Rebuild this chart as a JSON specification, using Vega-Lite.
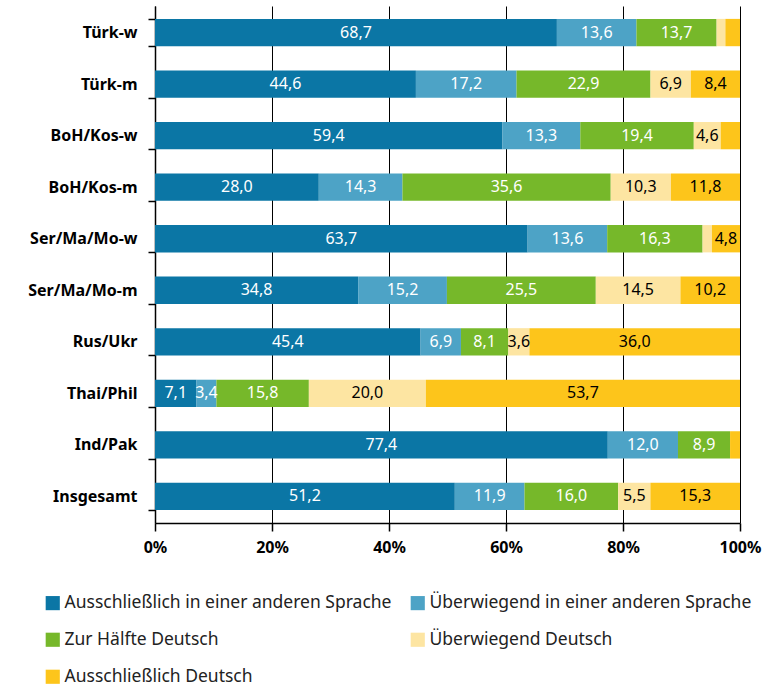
{
  "$schema": "https://vega.github.io/schema/vega-lite/v6.json",
  "width": 585,
  "height": 517,
  "autosize": "none",
  "padding": {"left": 155, "top": 6, "right": 29, "bottom": 163},
  "config": {
    "locale": {"number": {"decimal": ",", "thousands": ".", "grouping": [3], "currency": ["", " €"]}},
    "font": "Noto Sans",
    "view": {"stroke": null}
  },
  "data": {
    "values": [
      {"g": "Türk-w", "Ausschließlich in einer anderen Sprache": 68.7, "Überwiegend in einer anderen Sprache": 13.6, "Zur Hälfte Deutsch": 13.7, "Überwiegend Deutsch": 1.5, "Ausschließlich Deutsch": 2.5},
      {"g": "Türk-m", "Ausschließlich in einer anderen Sprache": 44.6, "Überwiegend in einer anderen Sprache": 17.2, "Zur Hälfte Deutsch": 22.9, "Überwiegend Deutsch": 6.9, "Ausschließlich Deutsch": 8.4},
      {"g": "BoH/Kos-w", "Ausschließlich in einer anderen Sprache": 59.4, "Überwiegend in einer anderen Sprache": 13.3, "Zur Hälfte Deutsch": 19.4, "Überwiegend Deutsch": 4.6, "Ausschließlich Deutsch": 3.3},
      {"g": "BoH/Kos-m", "Ausschließlich in einer anderen Sprache": 28.0, "Überwiegend in einer anderen Sprache": 14.3, "Zur Hälfte Deutsch": 35.6, "Überwiegend Deutsch": 10.3, "Ausschließlich Deutsch": 11.8},
      {"g": "Ser/Ma/Mo-w", "Ausschließlich in einer anderen Sprache": 63.7, "Überwiegend in einer anderen Sprache": 13.6, "Zur Hälfte Deutsch": 16.3, "Überwiegend Deutsch": 1.6, "Ausschließlich Deutsch": 4.8},
      {"g": "Ser/Ma/Mo-m", "Ausschließlich in einer anderen Sprache": 34.8, "Überwiegend in einer anderen Sprache": 15.2, "Zur Hälfte Deutsch": 25.5, "Überwiegend Deutsch": 14.5, "Ausschließlich Deutsch": 10.2},
      {"g": "Rus/Ukr", "Ausschließlich in einer anderen Sprache": 45.4, "Überwiegend in einer anderen Sprache": 6.9, "Zur Hälfte Deutsch": 8.1, "Überwiegend Deutsch": 3.6, "Ausschließlich Deutsch": 36.0},
      {"g": "Thai/Phil", "Ausschließlich in einer anderen Sprache": 7.1, "Überwiegend in einer anderen Sprache": 3.4, "Zur Hälfte Deutsch": 15.8, "Überwiegend Deutsch": 20.0, "Ausschließlich Deutsch": 53.7},
      {"g": "Ind/Pak", "Ausschließlich in einer anderen Sprache": 77.4, "Überwiegend in einer anderen Sprache": 12.0, "Zur Hälfte Deutsch": 8.9, "Überwiegend Deutsch": 0.0, "Ausschließlich Deutsch": 1.7},
      {"g": "Insgesamt", "Ausschließlich in einer anderen Sprache": 51.2, "Überwiegend in einer anderen Sprache": 11.9, "Zur Hälfte Deutsch": 16.0, "Überwiegend Deutsch": 5.5, "Ausschließlich Deutsch": 15.3}
    ]
  },
  "transform": [
    {"fold": ["Ausschließlich in einer anderen Sprache", "Überwiegend in einer anderen Sprache", "Zur Hälfte Deutsch", "Überwiegend Deutsch", "Ausschließlich Deutsch"], "as": ["c", "v"]},
    {"calculate": "indexof(['Ausschließlich in einer anderen Sprache', 'Überwiegend in einer anderen Sprache', 'Zur Hälfte Deutsch', 'Überwiegend Deutsch', 'Ausschließlich Deutsch'], datum.c)", "as": "o"},
    {"stack": "v", "groupby": ["g"], "sort": [{"field": "o", "order": "ascending"}], "offset": "normalize", "as": ["x0", "x1"]},
    {"calculate": "(datum.x0 + datum.x1) / 2", "as": "xm"}
  ],
  "encoding": {
    "y": {
      "field": "g", "type": "nominal", "title": null,
      "sort": ["Türk-w", "Türk-m", "BoH/Kos-w", "BoH/Kos-m", "Ser/Ma/Mo-w", "Ser/Ma/Mo-m", "Rus/Ukr", "Thai/Phil", "Ind/Pak", "Insgesamt"],
      "scale": {"paddingInner": 0.47, "paddingOuter": 0.25},
      "axis": {"domainColor": "black", "domainWidth": 1.5, "tickColor": "black", "tickWidth": 1.5, "tickSize": 7, "tickBand": "extent", "labelFont": "Noto Sans", "labelFontWeight": "bold", "labelFontSize": 16, "labelColor": "black", "labelPadding": 11}
    }
  },
  "layer": [
    {
      "mark": {"type": "bar"},
      "encoding": {
        "x": {
          "field": "x0", "type": "quantitative", "title": null,
          "scale": {"domain": [0, 1], "nice": false},
          "axis": {"format": ".0%", "values": [0, 0.2, 0.4, 0.6, 0.8, 1], "grid": true, "gridColor": "black", "gridWidth": 1, "domainColor": "black", "domainWidth": 1.5, "tickColor": "black", "tickWidth": 1.5, "tickSize": 8, "labelFont": "Noto Sans", "labelFontWeight": "bold", "labelFontSize": 16, "labelColor": "black", "labelPadding": 8, "labelFlush": false}
        },
        "x2": {"field": "x1"},
        "color": {
          "field": "c", "type": "nominal", "title": null,
          "sort": ["Ausschließlich in einer anderen Sprache", "Überwiegend in einer anderen Sprache", "Zur Hälfte Deutsch", "Überwiegend Deutsch", "Ausschließlich Deutsch"],
          "scale": {"domain": ["Ausschließlich in einer anderen Sprache", "Überwiegend in einer anderen Sprache", "Zur Hälfte Deutsch", "Überwiegend Deutsch", "Ausschließlich Deutsch"], "range": ["#0b76a5", "#4da3c6", "#76b82a", "#fde5a2", "#fdc51b"]},
          "legend": {"orient": "none", "legendX": -111, "legendY": 588, "columns": 2, "direction": "horizontal", "symbolType": "square", "symbolSize": 200, "symbolStrokeWidth": 0, "symbolOpacity": 1, "labelFont": "Noto Sans", "labelFontSize": 17.5, "labelColor": "#222", "labelLimit": 400, "rowPadding": 18, "columnPadding": 17, "labelOffset": 3}
        }
      }
    },
    {
      "transform": [{"filter": "datum.v >= 3.4"}],
      "mark": {"type": "text", "fontSize": 16, "font": "Noto Sans", "baseline": "middle", "align": "center"},
      "encoding": {
        "x": {"field": "xm", "type": "quantitative"},
        "text": {"field": "v", "type": "quantitative", "format": ".1f"},
        "color": {"condition": {"test": "datum.o < 3", "value": "white"}, "value": "black"}
      }
    }
  ]
}
